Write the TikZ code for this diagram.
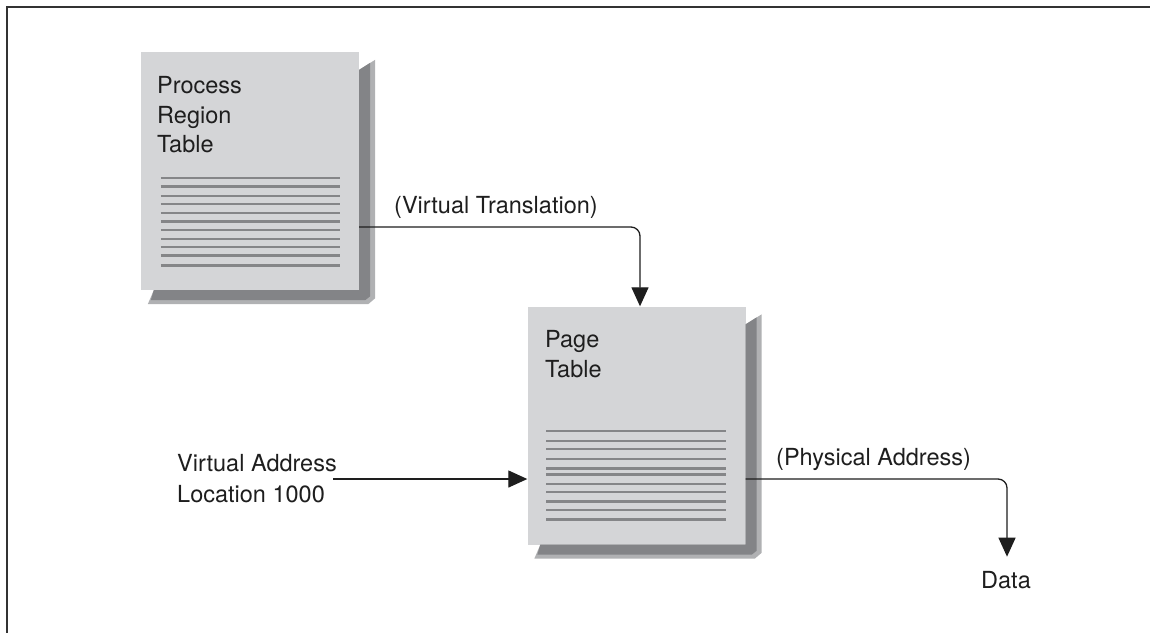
\documentclass[tikz,border=0pt]{standalone}
\usepackage{fontspec}
\setmainfont{TeX Gyre Heros}
\usetikzlibrary{arrows.meta,calc}
\definecolor{boxfill}{HTML}{D4D5D7}
\definecolor{shadowdark}{HTML}{838487}
\definecolor{shadowlight}{HTML}{B0B1B3}
\definecolor{rulegray}{HTML}{858688}
\definecolor{ink}{HTML}{1E1E1E}
\definecolor{framegray}{HTML}{333333}
\begin{document}
\begin{tikzpicture}[x=1pt,y=-1pt,
  tablebox/.style={fill=boxfill, minimum width=218pt, minimum height=238pt, inner sep=0pt, draw=none},
  lbl/.style={font=\fontsize{23.5}{30}\selectfont, text=ink, inner sep=0pt, anchor=base west},
  conn/.style={draw=ink, line width=1.3pt, rounded corners=9pt, -{Triangle[length=19pt,width=17pt]}},
  rowline/.style={draw=rulegray, line width=2.3pt},
  shadeouter/.style={fill=shadowlight},
  shadeinner/.style={fill=shadowdark}]
\useasboundingbox (0,0) rectangle (1150,633);
\fill[white] (0,0) rectangle (1150,633);
% frame
\draw[framegray, line width=2pt] (1150,7) -- (7,7) -- (7,633);

% boxes
\node[tablebox] (prt) at (250,171) {};
\node[tablebox] (pt) at (636.5,425.5) {};

% shadows
\foreach \b in {prt,pt}{
  \fill[shadeouter] ($(\b.north east)+(0,18)$) -- ($(\b.north east)+(16,8)$) -- ($(\b.south east)+(16,8)$) -- ($(\b.south east)+(9,14)$) -- ($(\b.south west)+(7,14)$) -- ($(\b.south west)+(13,0)$) -- (\b.south east) -- cycle;
  \fill[shadeinner] ($(\b.north east)+(0,18)$) -- ($(\b.north east)+(11,11)$) -- ($(\b.south east)+(11,6)$) -- ($(\b.south east)+(6,10)$) -- ($(\b.south west)+(10,10)$) -- ($(\b.south west)+(13,0)$) -- (\b.south east) -- cycle;
}

% table rows
\foreach \yy in {126.3,134.7,144,152,161.3,169.7,178,187.3,195.3,203.7,213.7}
  \draw[rowline] ($(prt.north west)+(20,\yy)$) -- ($(prt.north east)+(-19,\yy)$);
\foreach \yy in {125,134.7,143,152.7,162.3,168.3,177.7,186,195.3,204,213.3}
  \draw[rowline] ($(pt.north west)+(19,\yy)$) -- ($(pt.north east)+(-20,\yy)$);

% box texts
\node[lbl] (prt1) at (157,93) {Process};
\node[lbl] (prt2) at (157,123) {Region};
\node[lbl] (prt3) at (157,152) {Table};
\node[lbl] (pt1) at (545,347) {Page};
\node[lbl] (pt2) at (545,377) {Table};

% other labels
\node[lbl] (vtl) at (394,213) {(Virtual Translation)};
\node[lbl] (pal) at (776,465) {(Physical Address)};
\node[lbl] (va1) at (177,471) {Virtual Address};
\node[lbl] (va2) at (177,502) {Location 1000};
\node[lbl] (data) at (981,588) {Data};
\coordinate (vastart) at (333,479);

% connectors
\draw[conn] ([yshift=-56pt]prt.east) -| ([xshift=3.5pt]pt.north);
\draw[conn] (vastart) -- (vastart -| pt.west);
\draw[conn] (vastart -| pt.east) -| ([xshift=1pt,yshift=14pt]data.north);
\end{tikzpicture}
\end{document}
